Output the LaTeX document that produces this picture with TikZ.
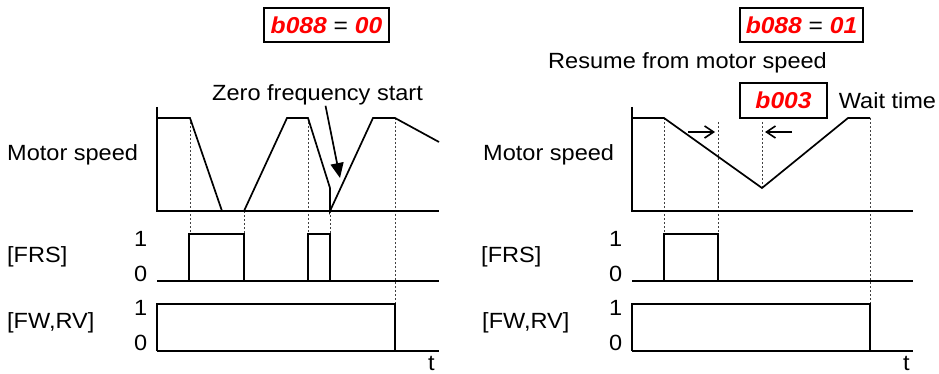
\documentclass[tikz,border=0pt]{standalone}
\usepackage{fontspec}
\setmainfont{Liberation Sans}[FakeStretch=1.07]
\usetikzlibrary{positioning,arrows.meta}
\definecolor{segred}{RGB}{255,0,0}

\begin{document}
\begin{tikzpicture}[x=1pt,y=-1pt,
      lbl/.style={inner sep=0pt,anchor=base west,
        font=\fontsize{22}{24}\selectfont},
      valbox/.style={draw=black,line width=1.3pt,inner sep=0pt,
        minimum height=34pt,font=\fontsize{23}{24}\selectfont},
      trace/.style={draw=black,line width=1.7pt,line join=miter},
      guide/.style={draw=black!75,line width=0.6pt,dash pattern=on 2pt off 2pt},
      callout/.style={draw=black,line width=1.7pt,-{Triangle[length=15pt,width=13pt]}},
      span/.style={draw=black,line width=1.6pt,-{Straight Barb[length=9pt,width=12pt]}}
    ]
    \useasboundingbox (0,0) rectangle (939,374);

    % left: b088 = 00
    \node[valbox,minimum width=125pt] (selL) at (326.5,25)
      {\textcolor{segred}{\bfseries\itshape b088} = \textcolor{segred}{\bfseries\itshape 00}};
    \node[lbl] (zfs) at (212,101) {Zero frequency start};
    \node[lbl] (spdL) at (7,161) {Motor speed};
    \node[lbl] (frsL) at (7,262) {[FRS]};
    \node[lbl] (frsL1) at (134,246) {1};
    \node[lbl] (frsL0) at (134,281) {0};
    \node[lbl] (fwL) at (7,328) {[FW,RV]};
    \node[lbl] (fwL1) at (134,315) {1};
    \node[lbl] (fwL0) at (134,350) {0};
    \node[lbl] (tL) at (428,370) {t};

    % left guides
    \draw[guide] (190,118) -- (190,234);
    \draw[guide] (244,211) -- (244,234);
    \draw[guide] (308,118) -- (308,234);
    \draw[guide] (330,211) -- (330,234);
    \draw[guide] (395,118) -- (395,304);

    % left traces
    \draw[trace] (157,107) -- (157,211) -- (439,211);
    \draw[trace] (157,118) -- (190,118) -- (222,211);
    \draw[trace] (244,211) -- (287,118) -- (308,118) -- (330,188) -- (330,211)
      -- (373,118) -- (395,118) -- (439,142);
    \draw[trace] (157,281) -- (439,281);
    \draw[trace] (189,281) -- (189,234) -- (244,234) -- (244,281);
    \draw[trace] (308,281) -- (308,234) -- (330,234) -- (330,281);
    \draw[trace] (157,351) -- (157,304) -- (395,304) -- (395,351);
    \draw[trace] (157,351) -- (439,351);

    \coordinate (zfsTip) at (340,178);
    \draw[callout] ([xshift=8pt]zfs.south) -- (zfsTip);

    % right: b088 = 01
    \node[valbox,minimum width=123pt] (selR) at (801.5,25)
      {\textcolor{segred}{\bfseries\itshape b088} = \textcolor{segred}{\bfseries\itshape 01}};
    \node[lbl] (resume) at (548,69) {Resume from motor speed};
    \node[valbox,minimum width=87pt,minimum height=35pt] (wait) at (783.5,100.5)
      {\textcolor{segred}{\bfseries\itshape b003}};
    \node[lbl,right=11pt of wait.east,anchor=west] (waitTxt) {Wait time};
    \node[lbl] (spdR) at (483,161) {Motor speed};
    \node[lbl] (frsR) at (481,262) {[FRS]};
    \node[lbl] (frsR1) at (609,246) {1};
    \node[lbl] (frsR0) at (609,281) {0};
    \node[lbl] (fwR) at (482,328) {[FW,RV]};
    \node[lbl] (fwR1) at (609,315) {1};
    \node[lbl] (fwR0) at (609,350) {0};
    \node[lbl] (tR) at (903,370) {t};

    % right guides
    \draw[guide] (664,118) -- (664,234);
    \draw[guide] (718,122) -- (718,234);
    \draw[guide] (762,122) -- (762,188);
    \draw[guide] (870,118) -- (870,304);

    % right traces
    \draw[trace] (632,107) -- (632,211) -- (913,211);
    \draw[trace] (632,118) -- (664,118) -- (762,188) -- (848,118) -- (870,118);
    \draw[trace] (632,281) -- (913,281);
    \draw[trace] (664,281) -- (664,234) -- (718,234) -- (718,281);
    \draw[trace] (632,351) -- (632,304) -- (870,304) -- (870,351);
    \draw[trace] (632,351) -- (913,351);

    \coordinate (waitA0) at (688,132);
    \coordinate (waitA1) at (715,132);
    \coordinate (waitB0) at (792,132);
    \coordinate (waitB1) at (765,132);
    \draw[span] (waitA0) -- (waitA1);
    \draw[span] (waitB0) -- (waitB1);
  \end{tikzpicture}
\end{document}
